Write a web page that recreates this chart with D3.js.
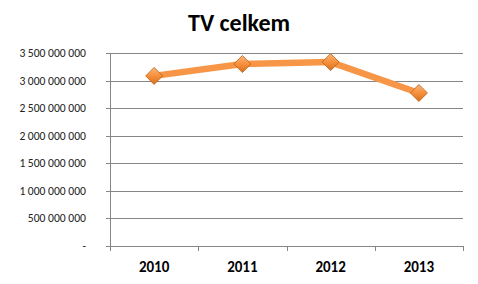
<!DOCTYPE html>
<html>
<head>
<meta charset="utf-8">
<script src="https://cdn.jsdelivr.net/npm/d3@7"></script>
<style>
  body { margin: 0; background: #fff; }
  text { font-family: Carlito, Calibri, "Liberation Sans", Arial, sans-serif; }
</style>
</head>
<body>
<div id="chart"></div>
<script>
// data
const years = ["2010", "2011", "2012", "2013"];
const values = [3085000000, 3300000000, 3335000000, 2775000000];
const yTicks = [0, 500000000, 1000000000, 1500000000, 2000000000, 2500000000, 3000000000, 3500000000];
const title = "TV celkem";

const width = 478, height = 284;
const margin = {top: 53, right: 15, bottom: 38, left: 110};

const svg = d3.select("#chart").append("svg")
    .attr("width", width)
    .attr("height", height);

const x = d3.scaleBand()
    .domain(years)
    .range([margin.left, width - margin.right]);

const y = d3.scaleLinear()
    .domain([0, 3500000000])
    .range([height - margin.bottom, margin.top]);

// number format with spaces, "-" for zero
const fmt = d => d === 0 ? "-" : d3.format(",")(d).replace(/,/g, " ");

// gridlines
svg.append("g")
    .selectAll("line")
    .data(yTicks)
    .enter().append("line")
    .attr("x1", margin.left - 4)
    .attr("x2", width - margin.right)
    .attr("y1", d => Math.round(y(d)) + 0.5)
    .attr("y2", d => Math.round(y(d)) + 0.5)
    .attr("stroke", "#868686")
    .attr("stroke-width", 1);

// y axis line
svg.append("line")
    .attr("x1", margin.left + 0.5)
    .attr("x2", margin.left + 0.5)
    .attr("y1", y(3500000000))
    .attr("y2", Math.round(y(0)) + 0.5)
    .attr("stroke", "#868686");

// x ticks at category boundaries
const bounds = years.map(d => x(d)).concat([x(years[years.length - 1]) + x.bandwidth()]);
svg.append("g")
    .selectAll("line")
    .data(bounds)
    .enter().append("line")
    .attr("x1", d => Math.round(d) + 0.5)
    .attr("x2", d => Math.round(d) + 0.5)
    .attr("y1", Math.round(y(0)))
    .attr("y2", Math.round(y(0)) + 5)
    .attr("stroke", "#868686");

// y labels
svg.append("g")
    .selectAll("text")
    .data(yTicks)
    .enter().append("text")
    .attr("x", 86)
    .attr("y", d => y(d) + 4)
    .attr("text-anchor", "end")
    .attr("font-size", "11.6px")
    .attr("fill", "#222")
    .text(fmt);

// x labels
svg.append("g")
    .selectAll("text")
    .data(years)
    .enter().append("text")
    .attr("x", d => x(d) + x.bandwidth() / 2)
    .attr("y", 272)
    .attr("text-anchor", "middle")
    .attr("font-size", "15px")
    .attr("font-weight", "bold")
    .attr("fill", "#000")
    .text(d => d);

// title
svg.append("text")
    .attr("x", 239)
    .attr("y", 31)
    .attr("text-anchor", "middle")
    .attr("font-size", "24px")
    .attr("font-weight", "bold")
    .attr("fill", "#000")
    .text(title);

// gradient for markers
const defs = svg.append("defs");
const grad = defs.append("linearGradient")
    .attr("id", "mk")
    .attr("x1", "0").attr("y1", "0").attr("x2", "0").attr("y2", "1");
grad.append("stop").attr("offset", "0%").attr("stop-color", "#fbb47a");
grad.append("stop").attr("offset", "50%").attr("stop-color", "#f7903c");
grad.append("stop").attr("offset", "100%").attr("stop-color", "#d8701e");

const pts = years.map((d, i) => ({year: d, value: values[i]}));

// line
const line = d3.line()
    .x(d => x(d.year) + x.bandwidth() / 2)
    .y(d => y(d.value));

svg.append("path")
    .datum(pts)
    .attr("d", line)
    .attr("fill", "none")
    .attr("stroke", "#f79646")
    .attr("stroke-width", 6.5)
    .attr("stroke-linejoin", "round");

// diamond markers
svg.append("g")
    .selectAll("path")
    .data(pts)
    .enter().append("path")
    .attr("transform", d => `translate(${x(d.year) + x.bandwidth() / 2},${y(d.value)})`)
    .attr("d", "M0,-8.5L8.5,0L0,8.5L-8.5,0Z")
    .attr("fill", "url(#mk)")
    .attr("stroke", "#b9600f")
    .attr("stroke-width", 0.8);
</script>
</body>
</html>
